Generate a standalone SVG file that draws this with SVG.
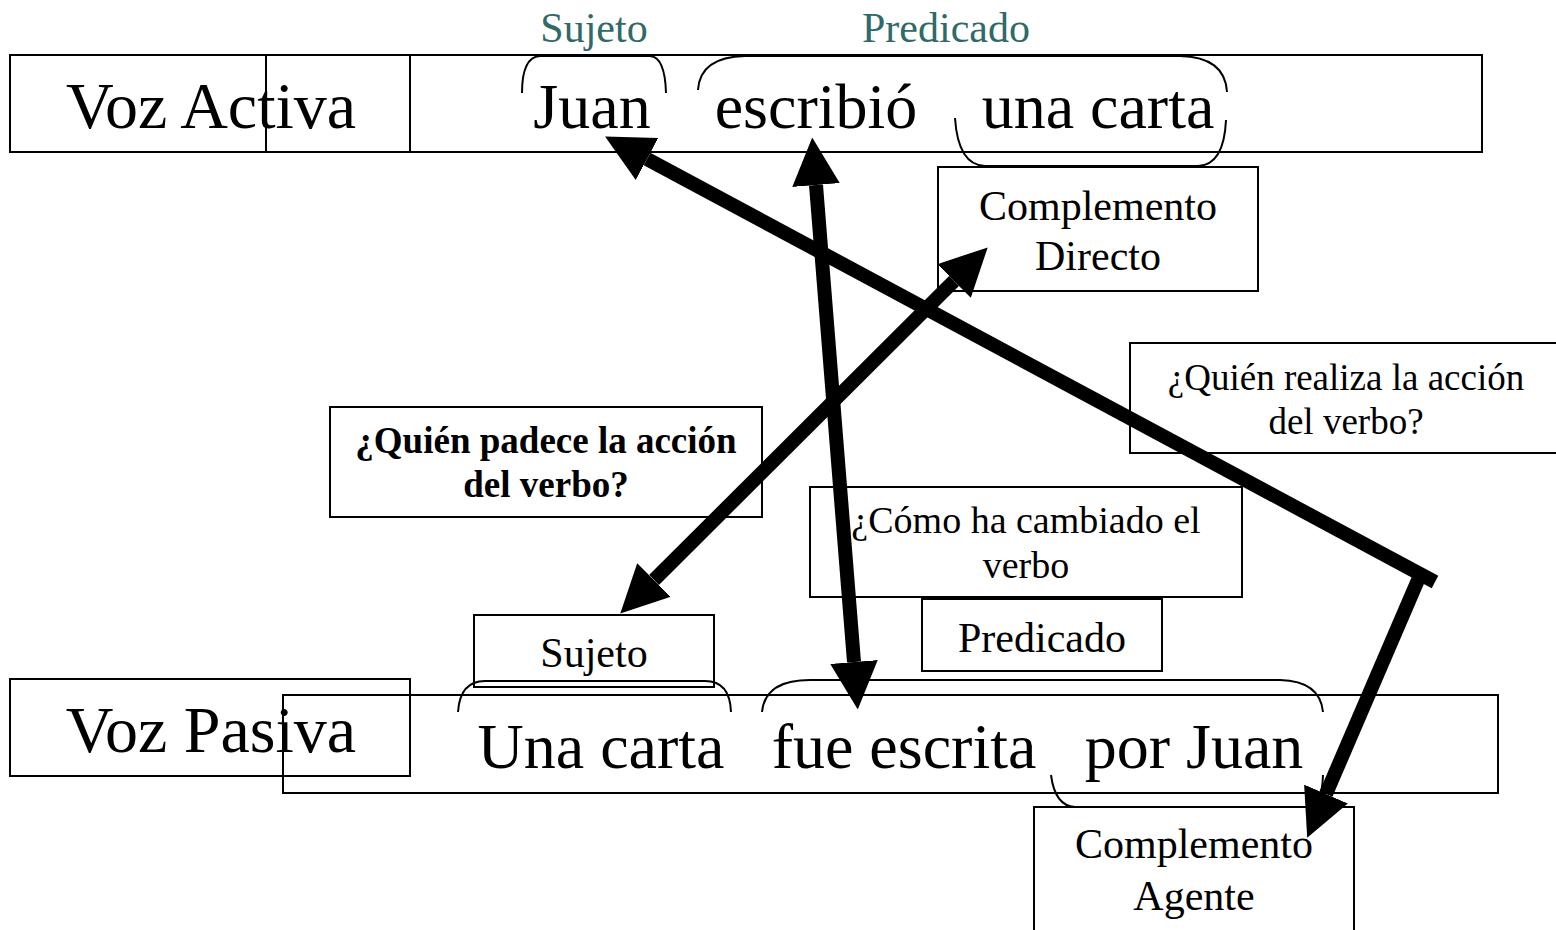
<svg xmlns="http://www.w3.org/2000/svg" width="1556" height="930" viewBox="0 0 1556 930">
<defs>
<style>
.box{fill:none;stroke:#000;stroke-width:2}
.brace{fill:none;stroke:#000;stroke-width:2}
.t{font-family:"Liberation Serif","Times New Roman",serif;fill:#000;text-anchor:middle}
.big{font-size:64px}
.voz{font-size:66px}
.mid{font-size:42px}
.sm{font-size:37px}
.sm2{font-size:38px}
.b{font-weight:bold;font-size:37px}
.teal{fill:#2F6A68}
.arr{fill:none;stroke:#000;stroke-width:14}
</style>
<marker id="head" viewBox="0 0 10 10" refX="0" refY="5" markerWidth="3.4" markerHeight="3.4" orient="auto-start-reverse" markerUnits="strokeWidth">
<path d="M0,0 L10,5 L0,10 z" fill="#000"/>
</marker>
</defs>
<rect width="1556" height="930" fill="#fff"/>

<g id="voz-activa">
<rect class="box" x="266" y="55" width="1216" height="97"/>
<rect class="box" x="10" y="55" width="400" height="97"/>
<text class="t voz" x="211" y="128">Voz Activa</text>
<text class="t big" x="592" y="128">Juan</text>
<text class="t big" x="816" y="128">escribió</text>
<text class="t big" x="1098" y="128">una carta</text>
<text class="t mid teal" x="594" y="42">Sujeto</text>
<text class="t mid teal" x="946" y="42">Predicado</text>
<path class="brace" d="M522,93 Q522,57 540,56 L650,56 Q665,57 666,93"/>
<path class="brace" d="M698,90 Q700,57 745,56 L1180,56 Q1225,57 1227,92"/>
<path class="brace" d="M955,118 Q958,165 985,166 L1198,166 Q1224,165 1226,120"/>
</g>

<g id="complemento-directo">
<rect class="box" x="938" y="167" width="320" height="124"/>
<text class="t mid" x="1098" y="220">Complemento</text>
<text class="t mid" x="1098" y="270">Directo</text>
</g>

<g id="quien-realiza">
<path class="box" d="M1556,343 L1130,343 L1130,453 L1556,453"/>
<text class="t sm" x="1346" y="390">¿Quién realiza la acción</text>
<text class="t sm" x="1346" y="434">del verbo?</text>
</g>

<g id="quien-padece">
<rect class="box" x="330" y="407" width="432" height="110"/>
<text class="t b" x="546" y="453">¿Quién padece la acción</text>
<text class="t b" x="546" y="497">del verbo?</text>
</g>

<g id="como-ha-cambiado">
<rect class="box" x="810" y="487" width="432" height="110"/>
<text class="t sm2" x="1026" y="533">¿Cómo ha cambiado el</text>
<text class="t sm2" x="1026" y="578">verbo</text>
</g>

<g id="predicado-box">
<rect class="box" x="922" y="599" width="240" height="72"/>
<text class="t mid" x="1042" y="652">Predicado</text>
</g>

<g id="sujeto-box">
<rect class="box" x="474" y="615" width="240" height="72"/>
<text class="t mid" x="594" y="667">Sujeto</text>
</g>

<g id="voz-pasiva">
<rect class="box" x="10" y="679" width="400" height="97"/>
<rect class="box" x="283" y="695" width="1215" height="98"/>
<text class="t voz" x="211" y="752">Voz Pasiva</text>
<text class="t big" x="601" y="768">Una carta</text>
<text class="t big" x="904" y="768">fue escrita</text>
<text class="t big" x="1194" y="768">por Juan</text>
<path class="brace" d="M458,712 Q460,681 485,681 L705,681 Q730,681 731,712"/>
<path class="brace" d="M762,712 Q765,680 810,680 L1280,680 Q1320,681 1323,712"/>
<path class="brace" d="M1051,775 Q1055,806 1075,807 L1310,807 Q1322,805 1323,775"/>
</g>

<g id="complemento-agente">
<path class="box" d="M1034,930 L1034,807 L1354,807 L1354,930"/>
<text class="t mid" x="1194" y="858">Complemento</text>
<text class="t mid" x="1194" y="910">Agente</text>
</g>

<g id="connectors">
<line class="arr" x1="1435" y1="582" x2="647" y2="159" marker-end="url(#head)"/>
<line class="arr" x1="1418" y1="580" x2="1326" y2="794" marker-end="url(#head)"/>
<line class="arr" x1="816" y1="185" x2="854" y2="662" marker-start="url(#head)" marker-end="url(#head)"/>
<line class="arr" x1="654" y1="580" x2="954" y2="281" marker-start="url(#head)" marker-end="url(#head)"/>
</g>
</svg>
